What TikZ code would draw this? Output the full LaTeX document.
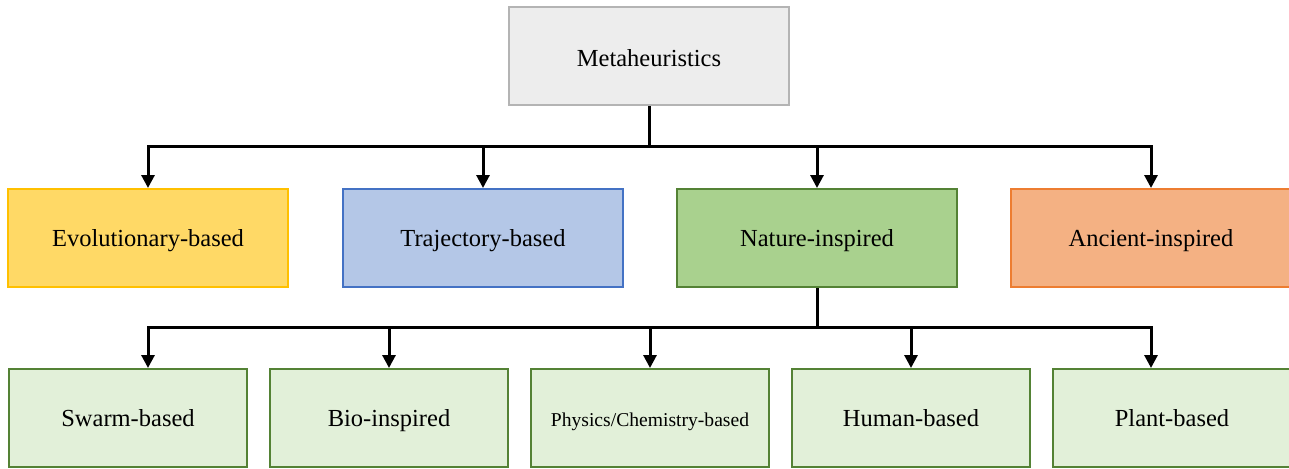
\documentclass[tikz,border=0pt]{standalone}
\usepackage{fontspec}
\setmainfont{Liberation Serif}
\usetikzlibrary{arrows.meta}
\definecolor{topfill}{HTML}{EDEDED}
\definecolor{topdraw}{HTML}{B4B4B4}
\definecolor{evofill}{HTML}{FFD966}
\definecolor{evodraw}{HTML}{FFC000}
\definecolor{trafill}{HTML}{B4C7E7}
\definecolor{tradraw}{HTML}{4472C4}
\definecolor{natfill}{HTML}{A9D18E}
\definecolor{natdraw}{HTML}{548235}
\definecolor{ancfill}{HTML}{F4B183}
\definecolor{ancdraw}{HTML}{ED7D31}
\definecolor{subfill}{HTML}{E2F0D9}
\tikzset{
  box/.style={rectangle, inner sep=0pt, line width=2pt, minimum height=98pt, font=\fontsize{24.5}{28}\selectfont, text=black, text height=22pt, text depth=5pt},
  bigbox/.style={box, minimum width=280pt},
  smallbox/.style={box, minimum width=238pt, draw=natdraw, fill=subfill},
  arr/.style={line width=3pt, -{Triangle[width=13pt,length=13pt]}},
  ln/.style={line width=3pt}
}
\begin{document}
\begin{tikzpicture}[x=1pt,y=-1pt]
\useasboundingbox (0,0) rectangle (1289,468);
\node[bigbox, draw=topdraw, fill=topfill, text depth=2pt] (top) at (649,56.5) {Metaheuristics};
\node[bigbox, draw=evodraw, fill=evofill] (evo) at (148,238) {Evolutionary-based};
\node[bigbox, draw=tradraw, fill=trafill] (tra) at (483,238) {Trajectory-based};
\node[bigbox, draw=natdraw, fill=natfill] (nat) at (817,238) {Nature-inspired};
\node[bigbox, draw=ancdraw, fill=ancfill] (anc) at (1151,238) {Ancient-inspired};
\node[smallbox] (swa) at (128,418) {Swarm-based};
\node[smallbox] (bio) at (389,418) {Bio-inspired};
\node[smallbox, font=\fontsize{19.6}{23}\selectfont, text height=22pt, text depth=6pt] (phy) at (650,418) {Physics/Chemistry-based};
\node[smallbox] (hum) at (911,418) {Human-based};
\node[smallbox] (pla) at (1172,418) {Plant-based};
\coordinate (j1) at (649,146);
\coordinate (j2) at (817,327);
\draw[ln] (top.south) -- (j1);
\draw[arr] (j1) -| (evo.north);
\draw[arr] (j1) -| (tra.north);
\draw[arr] (j1) -| (nat.north);
\draw[arr] (j1) -| (anc.north);
\draw[ln] (nat.south) -- (j2);
\draw[arr] (j2) -| ([xshift=20pt]swa.north);
\draw[arr] (j2) -| (bio.north);
\draw[arr] (j2) -| (phy.north);
\draw[arr] (j2) -| (hum.north);
\draw[arr] (j2) -| ([xshift=-21pt]pla.north);
\end{tikzpicture}
\end{document}
